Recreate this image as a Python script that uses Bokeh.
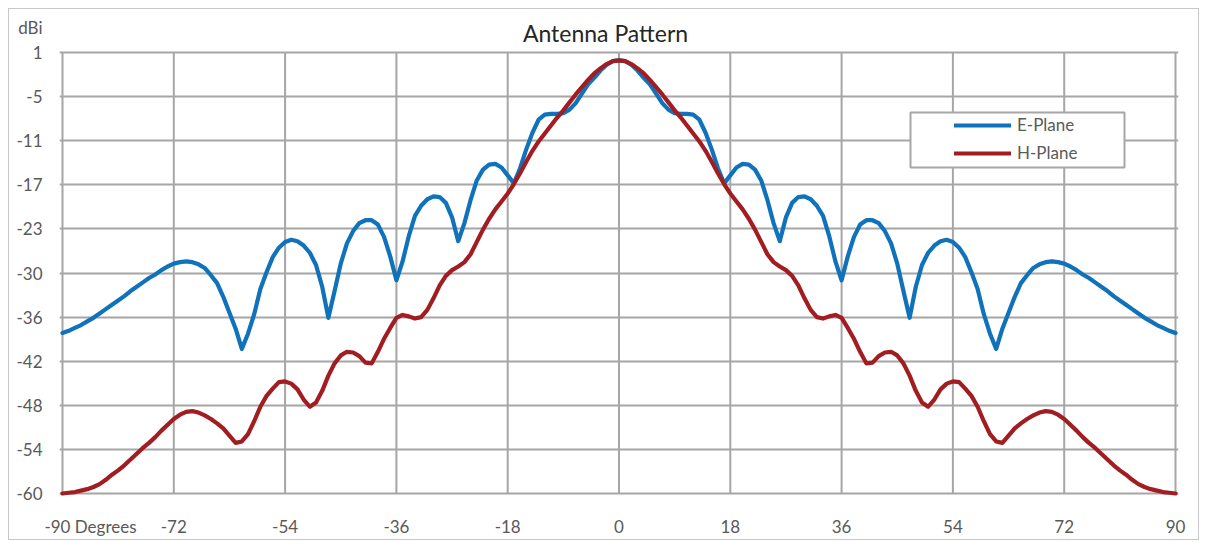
from bokeh.plotting import figure
from bokeh.models import (ColumnDataSource, Legend, LegendItem, Label,
                          BoxAnnotation, FixedTicker)
from bokeh.embed import file_html
from bokeh.resources import INLINE

# ---- data ----
angles = list(range(-90, 91))

e_plane = [
    -37.8, -37.5, -37.1, -36.7, -36.2, -35.7, -35.1, -34.5, -33.9, -33.3,
    -32.7, -32.0, -31.4, -30.8, -30.2, -29.7, -29.1, -28.6, -28.2, -28.0,
    -27.9, -28.0, -28.3, -28.8, -29.8, -30.9, -32.8, -35.0, -37.2, -40.0,
    -37.9, -35.2, -31.7, -29.4, -27.3, -26.0, -25.2, -24.9, -25.1, -25.7,
    -26.7, -28.4, -31.4, -35.7, -32.0, -28.2, -25.4, -23.7, -22.6, -22.2,
    -22.2, -22.8, -24.5, -27.2, -30.5, -27.9, -24.4, -21.6, -20.2, -19.3,
    -18.9, -19.0, -19.8, -21.8, -25.1, -22.6, -19.4, -16.7, -15.2, -14.5,
    -14.4, -14.9, -16.0, -17.1, -15.0, -12.4, -10.1, -8.3, -7.6, -7.5,
    -7.5, -7.4, -6.9, -6.0, -4.7, -3.4, -2.5, -1.5, -0.7, -0.2,
    -0.1,
    -0.2, -0.7, -1.5, -2.5, -3.4, -4.7, -6.0, -6.9, -7.4, -7.5,
    -7.5, -7.6, -8.3, -10.1, -12.4, -15.0, -17.1, -16.0, -14.9, -14.4,
    -14.5, -15.2, -16.7, -19.4, -22.6, -25.1, -21.8, -19.8, -19.0, -18.9,
    -19.3, -20.2, -21.6, -24.4, -27.9, -30.5, -27.2, -24.5, -22.8, -22.2,
    -22.2, -22.6, -23.7, -25.4, -28.2, -32.0, -35.7, -31.4, -28.4, -26.7,
    -25.7, -25.1, -24.9, -25.2, -26.0, -27.3, -29.4, -31.7, -35.2, -37.9,
    -40.0, -37.2, -35.0, -32.8, -30.9, -29.8, -28.8, -28.3, -28.0, -27.9,
    -28.0, -28.2, -28.6, -29.1, -29.7, -30.2, -30.8, -31.4, -32.0, -32.7,
    -33.3, -33.9, -34.5, -35.1, -35.7, -36.2, -36.7, -37.1, -37.5, -37.8,
]

h_plane = [
    -60.0, -59.9, -59.8, -59.6, -59.4, -59.1, -58.7, -58.1, -57.4, -56.8,
    -56.1, -55.3, -54.5, -53.7, -53.0, -52.2, -51.3, -50.5, -49.7, -49.1,
    -48.7, -48.6, -48.8, -49.2, -49.7, -50.3, -51.0, -52.0, -53.0, -52.8,
    -51.8, -50.0, -48.0, -46.5, -45.5, -44.6, -44.5, -44.8, -45.6, -47.0,
    -48.0, -47.4, -45.8, -43.7, -42.0, -40.9, -40.4, -40.5, -41.0, -41.9,
    -42.0, -40.4, -38.6, -37.1, -35.7, -35.3, -35.5, -35.8, -35.6, -34.6,
    -33.0, -31.2, -29.9, -29.1, -28.6, -28.0, -26.9, -25.2, -23.5, -22.0,
    -20.7, -19.6, -18.5, -17.2, -15.7, -14.1, -12.6, -11.3, -10.2, -9.1,
    -8.0, -7.0, -5.9, -4.8, -3.8, -2.8, -1.9, -1.2, -0.6, -0.2,
    -0.1,
    -0.2, -0.6, -1.2, -1.9, -2.8, -3.8, -4.8, -5.9, -7.0, -8.0,
    -9.1, -10.2, -11.3, -12.6, -14.1, -15.7, -17.2, -18.5, -19.6, -20.7,
    -22.0, -23.5, -25.2, -26.9, -28.0, -28.6, -29.1, -29.9, -31.2, -33.0,
    -34.6, -35.6, -35.8, -35.5, -35.3, -35.7, -37.1, -38.6, -40.4, -42.0,
    -41.9, -41.0, -40.5, -40.4, -40.9, -42.0, -43.7, -45.8, -47.4, -48.0,
    -47.0, -45.6, -44.8, -44.5, -44.6, -45.5, -46.5, -48.0, -50.0, -51.8,
    -52.8, -53.0, -52.0, -51.0, -50.3, -49.7, -49.2, -48.8, -48.6, -48.7,
    -49.1, -49.7, -50.5, -51.3, -52.2, -53.0, -53.7, -54.5, -55.3, -56.1,
    -56.8, -57.4, -58.1, -58.7, -59.1, -59.4, -59.6, -59.8, -59.9, -60.0,
]

x_ticks = [-90, -72, -54, -36, -18, 0, 18, 36, 54, 72, 90]
x_tick_labels = ["-90 Degrees", "-72", "-54", "-36", "-18", "0", "18", "36",
                 "54", "72", "90"]
y_ticks = [1, -5.1, -11.2, -17.3, -23.4, -29.5, -35.6, -41.7, -47.8, -53.9, -60]
y_tick_labels = ["1", "-5", "-11", "-17", "-23", "-30", "-36", "-42", "-48",
                 "-54", "-60"]
series_names = ["E-Plane", "H-Plane"]
title_text = "Antenna Pattern"
y_unit_text = "dBi"

# ---- layout (page pixels) ----
FONT = "Lato"
GRID = "#a6a6a6"
TXT = "#595959"
BLUE = "#0F72BA"
RED = "#A11D22"

ORG = 9                 # figure content origin (8px margin + 1px border)
W, H = 1191, 532        # figure content size
PX_L, PX_R = 62, 1175   # pixel columns of x = -90 and x = 90
PX_T, PX_B = 52, 493    # pixel rows of y = 1 and y = -60
PAD = 3                 # frame padding so edge grid lines are not clipped
FRAME_TOP = 14
DEG_PX = 180 / (PX_R - PX_L)
DB_PX = 61 / (PX_B - PX_T)


def xd(px):
    return -90 + (px - PX_L) * DEG_PX


def yd(py):
    return 1 - (py - PX_T) * DB_PX


x_lo, x_hi = xd(PX_L - PAD), xd(PX_R + PAD)
y_lo, y_hi = yd(PX_B + PAD), yd(FRAME_TOP)

src = ColumnDataSource(data=dict(angle=angles, e=e_plane, h=h_plane))

p = figure(width=W, height=H, x_range=(x_lo, x_hi), y_range=(y_lo, y_hi),
           output_backend="svg", toolbar_location=None,
           min_border_left=(PX_L - PAD) - ORG,
           min_border_right=ORG + W - (PX_R + PAD),
           min_border_top=FRAME_TOP - ORG,
           min_border_bottom=ORG + H - (PX_B + PAD))
p.styles = {"border": "1px solid #c8c8c8", "margin-left": "8px",
            "margin-top": "8px"}
p.background_fill_color = "white"
p.border_fill_color = "white"
p.outline_line_color = None

# axis ticks: "-90 Degrees" sits shifted right as in the reference,
# "dBi" is drawn as the top label of the y axis
x_first_tick = xd(PX_L + 28)
x_axis_ticks = [x_first_tick] + x_ticks[1:]
y_unit_tick = yd(27)
y_axis_ticks = [y_unit_tick] + y_ticks

p.xaxis.ticker = FixedTicker(ticks=x_axis_ticks)
p.yaxis.ticker = FixedTicker(ticks=y_axis_ticks)
p.xaxis.major_label_overrides = dict(zip(x_axis_ticks, x_tick_labels))
p.yaxis.major_label_overrides = dict(zip(y_axis_ticks,
                                         [y_unit_text] + y_tick_labels))
for ax in (p.xaxis, p.yaxis):
    ax.axis_line_color = None
    ax.major_tick_line_color = None
    ax.minor_tick_line_color = None
    ax.major_tick_out = 0
    ax.major_tick_in = 0
    ax.major_label_text_font = FONT
    ax.major_label_text_font_size = "17px"
    ax.major_label_text_color = TXT
p.xaxis.major_label_standoff = 19
p.yaxis.major_label_standoff = 17

# grid: horizontal lines from the y ticks, vertical lines from the x ticks
p.xgrid.visible = False
p.ygrid.ticker = FixedTicker(ticks=y_ticks)
p.ygrid.grid_line_color = GRID
p.ygrid.grid_line_width = 2
p.segment(x0=x_ticks, y0=[y_ticks[-1]] * len(x_ticks), x1=x_ticks,
          y1=[y_ticks[0]] * len(x_ticks), line_color=GRID, line_width=2)

r_e = p.line("angle", "e", source=src, line_color=BLUE, line_width=4.2,
             line_join="round", line_cap="round")
r_h = p.line("angle", "h", source=src, line_color=RED, line_width=4.2,
             line_join="round", line_cap="round")

# legend box and legend
p.add_layout(BoxAnnotation(left=xd(910), right=xd(1124), top=yd(112),
                           bottom=yd(167), fill_color="white", fill_alpha=1.0,
                           line_color=GRID, line_width=2, line_alpha=1.0))
legend = Legend(items=[LegendItem(label=series_names[0], renderers=[r_e]),
                       LegendItem(label=series_names[1], renderers=[r_h])],
                location=(895, 333), orientation="vertical",
                padding=4, spacing=7, margin=0,
                glyph_width=57, glyph_height=20, label_height=20,
                label_standoff=6, label_text_font=FONT,
                label_text_font_size="17px", label_text_color=TXT,
                border_line_color=None, background_fill_alpha=0)
p.add_layout(legend)

p.add_layout(Label(x=xd(605), y=yd(32), text=title_text,
                   text_align="center", text_baseline="middle",
                   text_font=FONT, text_font_size="23px", text_color="#262626"))

open("out.html", "w").write(file_html(p, INLINE))
